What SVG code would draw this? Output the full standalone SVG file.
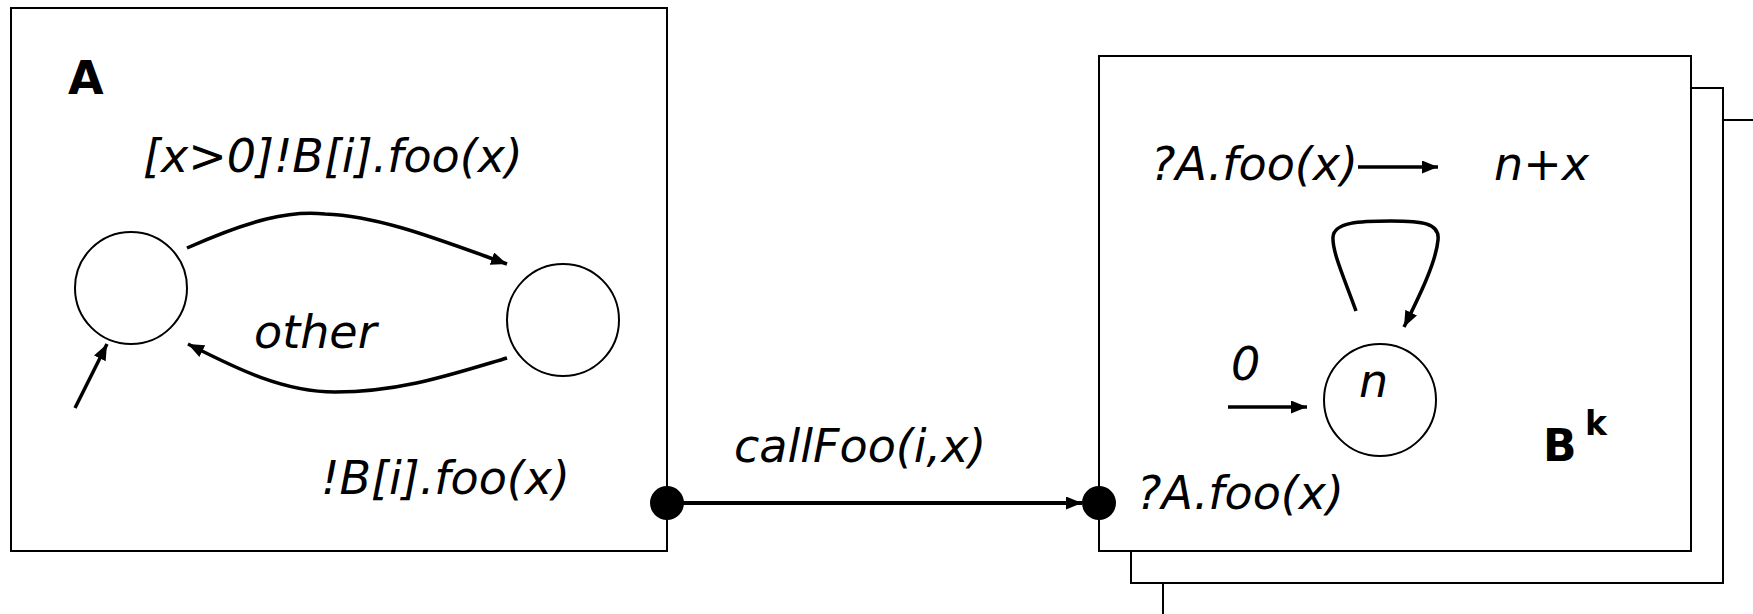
<svg xmlns="http://www.w3.org/2000/svg" width="1753" height="614" viewBox="0 0 1753 614">
<defs>
<marker id="ah" markerUnits="userSpaceOnUse" markerWidth="17" markerHeight="13" refX="16" refY="6.5" orient="auto"><path d="M0,0 L16,6.5 L0,13 z" fill="#000"/></marker>
<style>
.box{fill:#fff;stroke:#000;stroke-width:2}
.st{fill:#fff;stroke:#000;stroke-width:2}
.tr{fill:none;stroke:#000;stroke-width:3.5;marker-end:url(#ah)}
.lb{font-family:"DejaVu Sans",Verdana,sans-serif;font-style:italic;font-size:46px;fill:#000}
.bd{font-family:"DejaVu Sans",Verdana,sans-serif;font-weight:bold;fill:#000}
.dot{fill:#000}
</style>
</defs>
<rect width="1753" height="614" fill="#fff"/>
<g id="A">
<rect class="box" x="11" y="8" width="656" height="543"/>
<text class="bd" x="68" y="94" font-size="46">A</text>
<text class="lb" x="143" y="172">[x&gt;0]!B[i].foo(x)</text>
<circle class="st" cx="131" cy="288" r="56"/>
<circle class="st" cx="563" cy="320" r="56"/>
<text class="lb" x="254" y="348">other</text>
<text class="lb" x="321" y="494">!B[i].foo(x)</text>
<path class="tr" d="M187,248 C250,220 290,210 325,214 C380,216 440,240 507,264"/>
<path class="tr" d="M507,358 C450,375 400,392 335,392 C280,392 230,365 188,344"/>
<path class="tr" d="M75,408 L107,344"/>
</g>
<g id="B">
<polyline fill="none" stroke="#000" stroke-width="2" points="1163,614 1163,583"/>
<polyline fill="none" stroke="#000" stroke-width="2" points="1723,120 1753,120"/>
<rect class="box" x="1131" y="88" width="592" height="495"/>
<rect class="box" x="1099" y="56" width="592" height="495"/>
<text class="lb" x="1151" y="180">?A.foo(x)</text>
<path class="tr" d="M1358,167 L1438,167"/>
<text class="lb" x="1494" y="180">n+x</text>
<circle class="st" cx="1380" cy="400" r="56"/>
<text class="lb" x="1359" y="397">n</text>
<path class="tr" d="M1356,311 C1345,280 1332,252 1333,237 C1334,222 1360,221 1391,221 C1422,221 1440,223 1438,240 C1436,262 1420,295 1404,327"/>
<text class="lb" x="1231" y="380">0</text>
<path class="tr" d="M1228,407 L1307,407"/>
<text class="bd" x="1543" y="461" font-size="44">B</text>
<text class="bd" x="1585" y="435" font-size="33">k</text>
<text class="lb" x="1137" y="509">?A.foo(x)</text>
</g>
<g id="connectors">
<path d="M667,503 L1082,503" fill="none" stroke="#000" stroke-width="4" marker-end="url(#ah)"/>
<circle class="dot" cx="667" cy="503" r="17"/>
<circle class="dot" cx="1099" cy="503" r="17"/>
<text class="lb" x="734" y="462">callFoo(i,x)</text>
</g>
</svg>
